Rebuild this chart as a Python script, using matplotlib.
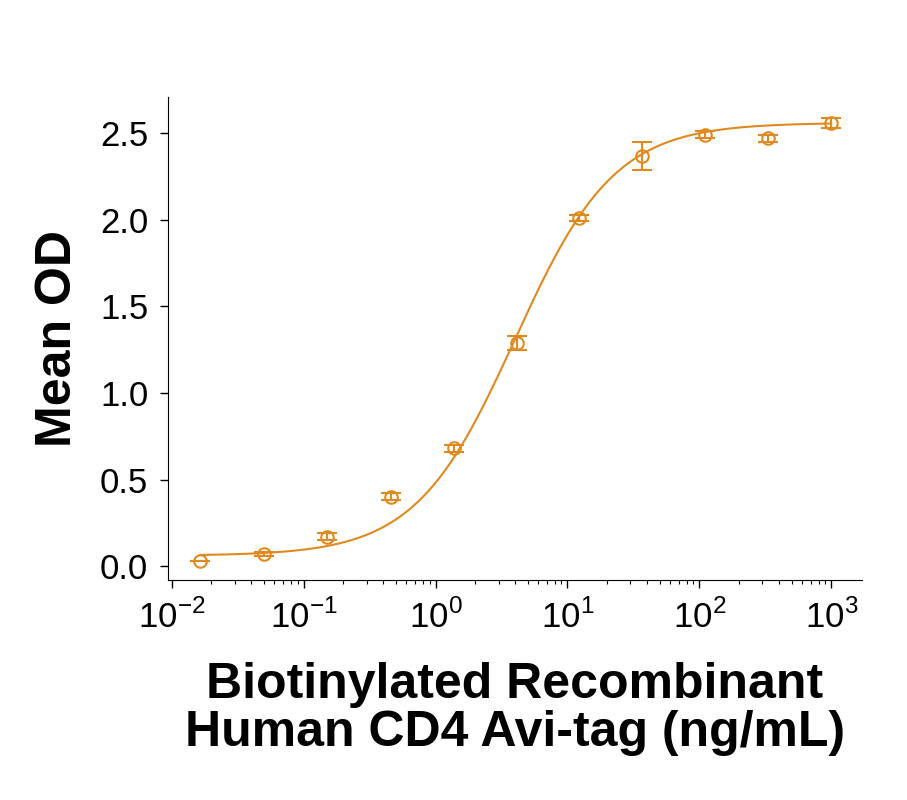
import numpy as np
import matplotlib.pyplot as plt
from matplotlib.ticker import LogLocator, FixedLocator

plt.rcParams['font.family'] = ['Liberation Sans', 'DejaVu Sans']
plt.rcParams['mathtext.fontset'] = 'custom'
plt.rcParams['mathtext.rm'] = 'Liberation Sans'

# measured points
conc = [0.0165, 0.05, 0.15, 0.457, 1.37, 4.12, 12.3, 37.0, 111.0, 333.0, 1000.0]
od = [0.03, 0.07, 0.17, 0.40, 0.68, 1.29, 2.01, 2.37, 2.49, 2.47, 2.56]
err = [0.0, 0.01, 0.02, 0.02, 0.02, 0.04, 0.02, 0.08, 0.02, 0.02, 0.03]

# 4PL fit parameters (bottom, top, EC50, hill)
fit_bottom, fit_top, fit_ec50, fit_hill = 0.06, 2.56, 4.0, 1.15

col = '#E0891E'

fig = plt.figure(figsize=(9.07, 8), dpi=100)
ax = fig.add_axes([0.185, 0.275, 0.765, 0.604])

xs = np.logspace(np.log10(conc[0]), np.log10(conc[-1]), 400)
ys = fit_bottom + (fit_top - fit_bottom) / (1 + (fit_ec50 / xs) ** fit_hill)
ax.plot(xs, ys, color=col, lw=1.5)
ax.errorbar(conc, od, yerr=err, fmt='o', mfc='none', mec=col, ecolor=col,
            ms=9, mew=1.5, capsize=7, elinewidth=1.5, capthick=1.5)

ax.set_xscale('log')
ax.set_xlim(10 ** -2.03, 10 ** 3.23)
ax.set_ylim(-0.08, 2.71)
ax.xaxis.set_major_locator(FixedLocator([1e-2, 1e-1, 1e0, 1e1, 1e2, 1e3]))
ax.xaxis.set_minor_locator(LogLocator(base=10, subs=np.arange(2, 10)))
ax.xaxis.set_minor_formatter(plt.NullFormatter())
ax.set_xticklabels(['$10^{-2}$', '$10^{-1}$', '$10^{0}$', '$10^{1}$', '$10^{2}$', '$10^{3}$'])
ax.set_yticks([0.0, 0.5, 1.0, 1.5, 2.0, 2.5])
ax.set_yticklabels(['0.0', '0.5', '1.0', '1.5', '2.0', '2.5'])

for s in ['top', 'right']:
    ax.spines[s].set_visible(False)
ax.tick_params(axis='both', which='major', labelsize=25, length=6, width=1, pad=8)
ax.tick_params(axis='x', which='minor', length=3, width=0.8)

ax.set_ylabel('Mean OD', fontsize=36, fontweight='bold', labelpad=14)
ax.set_xlabel('Biotinylated Recombinant\nHuman CD4 Avi-tag (ng/mL)', fontsize=36,
              fontweight='bold', labelpad=20, linespacing=1.05)

fig.savefig('out.png', dpi=100)
